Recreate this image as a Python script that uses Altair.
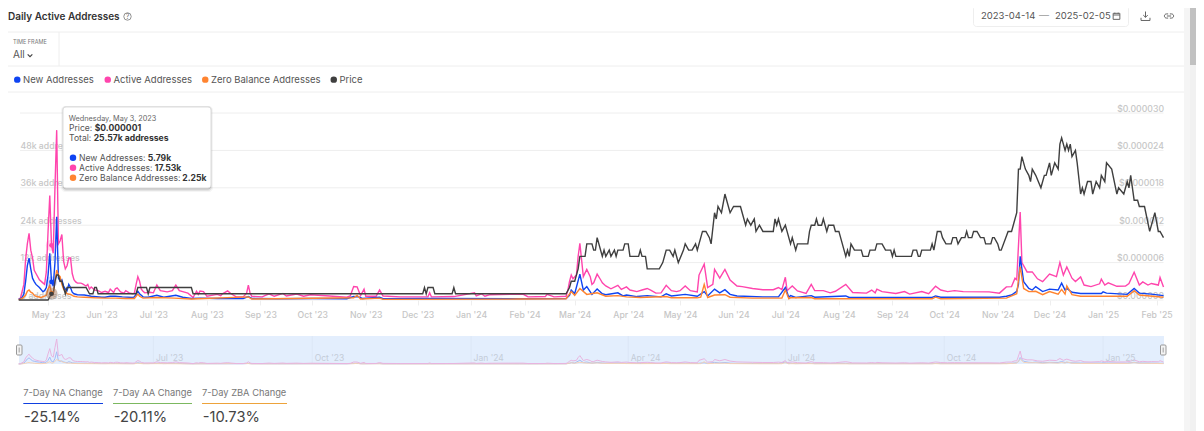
import altair as alt
import pandas as pd

START = "2023-04-14"
END = "2025-02-05"
FONT = "Inter"

SERIES = ["New Addresses", "Active Addresses", "Zero Balance Addresses", "Price"]
COLORS = ["#0f44f2", "#ff45ad", "#ff8430", "#3f3f3f"]

# day offset from START
active_days = [0,1,3,4,5,6,7,8,9,10,12,14,15,16,17,18,19,20,21,22,23,24,25,26,27,28,29,30,31,32,33,34,36,37,39,40,41,42,44,46,48,50,52,53,55,56,57,59,61,62,64,66,67,68,69,70,71,72,73,76,78,80,82,86,89,91,93,98,101,103,104,105,107,109,115,117,118,121,123,126,130,132,133,134,135,141,145,148,153,155,161,165,169,180,190,192,194,196,198,200,201,207,209,211,221,237,238,239,252,264,265,268,270,273,292,295,305,306,310,317,318,319,320,321,323,324,325,327,329,331,332,333,335,337,338,340,343,347,349,352,354,358,361,364,366,369,372,375,378,381,383,386,389,393,394,397,399,402,403,406,409,412,416,419,425,431,437,440,442,444,445,448,451,456,459,461,466,470,473,479,483,491,494,496,497,500,508,513,516,523,527,531,534,538,542,547,562,568,572,575,577,578,580,581,584,587,590,593,597,601,603,605,607,610,612,615,617,621,626,627,629,631,636,641,643,646,649,651,654,656,660,661,663]
active_k = [0.3,0.6,5,13,18,21.4,16,13.5,9.5,8.5,6.5,5.5,5,9,22,33.5,17.53,15,36,54.5,18,19,21,12.5,10,11,13.5,13.5,8.5,6.5,5.8,5.4,5.4,5.2,4.5,5,3.5,4.2,3.2,3,2.4,2.8,2.4,3.5,2.4,3.6,3.9,2.6,2.2,3,2.3,2,2.2,5,7.5,6,3.5,2.8,2.3,2.5,2.3,4.8,3,2.6,3,4.8,3,2.2,0.8,2.8,1.8,2.9,2.7,1.2,1.8,1.4,2,2.9,2,1,1,2.2,4.8,2.2,1.2,1,2,1.2,2.1,1.3,1.9,1.2,1.7,1.3,0.9,1.3,4.3,4.2,1.4,3.5,1.2,1.2,3.2,1.3,1,1,2.3,1,1.1,2.3,1.3,2,1.2,1.7,1.9,1,1.1,1.8,1,1.2,3,6,8,6.8,8,14,18.2,7.5,9.8,7.5,5,5.5,8.3,6.5,5.5,4.5,3.6,4.7,3.4,4.2,3.2,2.7,3.2,3.7,3.2,2.2,2.3,4.7,3,2.7,3,4.5,3,2.6,8,11.5,4,5,9.8,7,9.8,6.4,4.5,4.3,3.7,3.3,3.3,4,3.3,7.3,3,4.5,2.9,2.1,5,3,3,2.3,2.8,5,2.4,2.2,3.2,2.3,3.5,2.7,2.1,2.7,1.9,2.7,2,4.4,3.2,2.7,3,2.7,2.6,2.2,4.2,4.3,7,6.5,28.2,12,9,9,6.8,5.9,8.3,7.5,12,8,10.6,7,5.9,7.4,4.8,4.3,5.2,6.7,4.8,5.5,4.4,4.5,5.3,8.9,4.8,5.8,4.8,5.3,4.8,7.2,4.2]

new_days = [0,2,3,4,5,6,7,8,9,10,12,14,15,16,17,18,19,20,21,22,23,24,25,26,27,28,29,30,31,32,34,38,42,48,50,53,56,60,66,67,69,70,72,75,80,84,91,95,100,105,115,130,133,135,150,170,190,194,197,199,209,211,240,290,317,319,320,322,325,327,329,332,335,338,340,347,350,352,358,364,372,375,378,386,393,397,399,403,406,409,412,416,431,440,444,446,447,450,459,461,479,481,529,531,534,568,572,575,578,579,580,582,585,587,589,593,597,602,604,606,607,610,615,627,628,630,642,646,649,656,663]
new_k = [0.2,0.8,2,6,11,13.4,10,7,5.9,5,4,2.7,3,4,8,15,5.79,4.5,12,26.7,7,6,6.5,4.5,3.5,3,5,4,2.5,2,1.7,1.6,1.2,0.9,0.9,1.2,1.2,1,0.8,1,2.8,2,1,0.9,1.5,0.9,1.5,0.9,0.5,0.6,0.5,0.5,1.1,0.5,0.4,0.5,0.4,1.1,1,0.5,0.9,0.4,0.5,0.4,0.5,1.5,3.2,2,8.3,3.2,4.3,1.8,3.5,2,1.7,2.3,1.3,1.6,1.1,1.4,1,2,1.3,1.8,1.2,2.7,1.3,3.5,2.3,3.3,1.8,1.3,1,1,4,0.9,1.4,0.8,1.4,0.9,1.3,0.8,0.8,1.3,0.9,0.9,1.2,1.6,2.8,5,14,5.9,3.7,3.2,4.3,2.7,3.5,3.2,5.4,3.2,3.7,2.5,2.1,2.1,2.6,2.2,1.8,3.7,2.2,1.9,1.4]

zero_days = [0,2,3,4,5,6,7,8,9,10,13,16,17,18,19,20,21,22,23,24,25,26,27,28,30,32,34,38,44,50,56,62,67,69,70,72,80,90,100,133,135,194,196,198,209,211,290,317,320,322,325,329,335,340,347,352,360,375,378,393,395,397,399,403,409,412,425,442,444,446,447,459,461,529,531,534,572,578,580,582,585,589,593,597,602,604,606,607,610,615,642,646,649,663]
zero_k = [0.1,0.5,1,1.5,2.8,3.2,2.5,2.2,1.5,1.2,0.8,1.5,3.5,4.8,2.25,2,6,9.6,8,7.5,5,3.5,2.8,2,1.8,1.2,1,0.9,0.7,0.6,0.6,0.5,0.5,1.9,1.2,0.6,0.8,0.6,0.3,1,0.3,0.7,1.5,0.3,0.6,0.2,0.3,0.4,2.7,1.5,3.7,1.8,2.3,1.2,1.4,1,0.8,1.1,0.7,0.7,0.9,5,0.8,1.6,1.7,0.9,0.6,0.6,3.2,0.4,0.7,0.8,0.4,0.4,0.9,0.4,0.6,2,10.7,3.7,2.7,2.8,1.7,2.7,1.9,3.4,1.9,4.5,1.7,1.2,1.2,3,1.6,0.9]

price_days = [0,17,19,20,21,22,23,24,25,26,27,28,39,41,43,44,45,46,68,69,74,75,76,100,101,234,235,236,237,240,241,251,252,253,317,319,320,322,323,324,325,328,329,332,333,334,335,338,339,340,342,343,345,346,347,350,351,353,354,359,360,361,363,364,371,373,375,377,379,380,382,385,386,388,390,392,393,396,398,400,401,403,404,405,407,409,412,414,418,419,421,422,424,426,427,429,431,437,438,439,440,442,444,445,447,448,450,451,457,458,459,461,462,463,465,466,468,469,472,473,475,477,478,479,480,481,482,484,488,489,492,493,496,497,500,502,505,506,507,508,517,518,520,521,522,523,528,529,530,532,534,535,537,540,541,543,544,546,548,549,550,552,553,555,557,559,560,563,564,565,567,568,569,573,575,578,579,580,581,583,585,586,587,589,592,594,595,597,598,600,602,603,604,606,607,608,609,610,612,613,615,616,617,619,621,622,624,626,627,629,630,633,636,637,640,642,643,644,646,648,649,652,655,658,660,661,663]
price_millionths = [0,0,1,1,3,4,4,3,3,2,1,2,2,1,1,2,2,1,1,2,2,1,2,2,1,1,2,1,2,2,1,1,2,1,1,2,3,3,4,5,7,7,9,9,8,8,10,7,8,7,8,7,8,7,8,8,9,9,7,7,8,7,7,5,5,6,8,8,7,8,6,8,9,8,8,9,8,11,11,10,9,14,13,15,14,17,14,15,15,14,12,13,12,13,11,12,11,11,13,12,13,11,12,11,9,10,8,9,9,11,12,12,13,12,12,13,11,12,12,11,11,9,8,7,8,7,9,8,8,7,7,8,8,9,9,8,8,7,8,7,7,8,8,7,7,8,8,9,8,11,11,10,9,9,10,10,9,10,10,11,10,10,11,11,10,10,9,9,10,10,9,8,8,11,11,14,21,21,23,21,20,19,21,20,18,20,20,22,20,22,21,25,26,24,25,24,25,23,24,22,17,18,17,19,19,17,19,18,20,19,22,21,17,18,17,19,18,20,16,16,15,15,11,14,11,11,10]

hover_new, hover_active, hover_zero, hover_price = 5.79, 17.53, 2.25, 1
HOVER_DAY = "2023-05-03"

LEFT_TICKS = [0, 12, 24, 36, 48]
GRID_TICKS = [0, 12, 24, 36, 48, 60]
RIGHT_TICKS = [0, 6e-6, 12e-6, 18e-6, 24e-6, 30e-6]
OVERVIEW_TICKS = ["2023-07-01", "2023-10-01", "2024-01-01", "2024-04-01", "2024-07-01", "2024-10-01", "2025-01-01"]

def frame(days, values, name):
    base = pd.Timestamp(START)
    return pd.DataFrame({
        "date": [(base + pd.Timedelta(days=int(d))).strftime("%Y-%m-%d") for d in days],
        "value": values,
        "series": name,
    })

df_new = frame(new_days, new_k, SERIES[0])
df_active = frame(active_days, active_k, SERIES[1])
df_zero = frame(zero_days, zero_k, SERIES[2])
df_price = frame(price_days, [p * 1e-6 for p in price_millionths], SERIES[3])

W, H = 1188, 423
PX = lambda v: v - 8  # page pixel to canvas pixel

x_main = alt.Scale(type="utc", domain=[START, END], range=[PX(18.7), PX(1163.5)])
y_addr = alt.Scale(domain=[0, 60], range=[PX(300), PX(113)])
y_price = alt.Scale(domain=[0, 30e-6], range=[PX(300), PX(113)])
y_over = alt.Scale(domain=[0, 54.5], range=[PX(364), PX(339)])
color_scale = alt.Scale(domain=SERIES, range=COLORS)
legend_color = alt.Color("series:N", scale=color_scale, sort=SERIES,
                  legend=alt.Legend(title=None, orient="none", legendX=PX(12.5), legendY=PX(74.5), direction="horizontal",
                                    columns=4, symbolType="circle", symbolSize=42, symbolOpacity=1, symbolStrokeWidth=0,
                                    labelFont=FONT, labelFontSize=9.5, labelColor="#555555", columnPadding=8.5, labelOffset=1,
                                    padding=0, labelLimit=200))
one = pd.DataFrame({"n": [0]})

def X(axis=None):
    return alt.X("date:T", scale=x_main, axis=axis, title=None)

def label(txt, x, y, size=10.5, col="#555555", weight=400, align="left"):
    return alt.Chart(one).mark_text(font=FONT, fontSize=size, color=col, fontWeight=weight, align=align, baseline="middle").encode(
        x=alt.value(PX(x)), y=alt.value(PX(y)), text=alt.value(txt))

def box(x0, x1, y0, y1, fill="white", stroke=None, opacity=1, radius=0, sw=1):
    kw = {}
    if stroke:
        kw = {"stroke": stroke, "strokeWidth": sw}
    return alt.Chart(one).mark_rect(fill=fill, opacity=opacity, cornerRadius=radius, **kw).encode(
        x=alt.value(PX(x0)), x2=alt.value(PX(x1)), y=alt.value(PX(y0)), y2=alt.value(PX(y1)))

def hline(y, x0, x1, col="#eeeeee", w=1):
    return alt.Chart(one).mark_rule(color=col, strokeWidth=w).encode(
        x=alt.value(PX(x0)), x2=alt.value(PX(x1)), y=alt.value(PX(y)))

def vline(x, y0, y1, col="#eeeeee", w=1):
    return alt.Chart(one).mark_rule(color=col, strokeWidth=w).encode(
        x=alt.value(PX(x)), y=alt.value(PX(y0)), y2=alt.value(PX(y1)))

def icon(path, x, y, size, col="#666666", w=1.1, fill=None):
    kw = {"fill": fill, "filled": True} if fill else {"filled": False}
    return alt.Chart(one).mark_point(shape=path, size=size, stroke=col, strokeWidth=w, opacity=1, **kw).encode(
        x=alt.value(PX(x)), y=alt.value(PX(y)))

def dot(x_date, v, col, r_size, opacity=1, scale=y_addr):
    d = pd.DataFrame({"date": [x_date], "value": [v]})
    return alt.Chart(d).mark_point(filled=True, color=col, size=r_size, opacity=opacity).encode(
        x=X(), y=alt.Y("value:Q", scale=scale, axis=None, title=None))

layers = []

# page furniture
layers += [
    box(1184, 1190, 0, 431, fill="#f5f5f5"),
    box(1190, 1196, 0, 431, fill="#f1f1f1"),
    box(1190, 1196, 0, 65, fill="#c1c1c1"),
    hline(32, 8, 1184), hline(66, 8, 1184), hline(92, 8, 1184), vline(59, 32, 66),
    label("Daily Active Addresses", 8, 16.5, 10, "#333333", 600),
    icon("circle", 127.5, 16.5, 55, "#777777", 0.8),
    label("?", 127.5, 16.7, 7, "#777777", align="center"),
    label("TIME FRAME", 13, 42, 5.5, "#777777"),
    label("All", 13, 55, 10, "#555555"),
    icon("M-1,-0.5L0,0.5L1,-0.5", 30, 55.5, 22, "#444444", 1.2),
    box(973.5, 1128.5, 5.5, 26.5, stroke="#eeeeee", radius=3),
    label("2023-04-14", 981, 16, 9.5, "#555555"),
    label("—", 1044, 16, 10, "#999999", align="center"),
    label("2025-02-05", 1055, 16, 9.5, "#555555"),
    icon("M-1,-0.8H1V1H-1ZM-1,-0.3H1M-0.5,-1V-0.6M0.5,-1V-0.6", 1116.5, 16, 45, "#666666", 1),
    icon("M0,-1V0.3M-0.5,-0.2L0,0.3L0.5,-0.2M-1,0.4V1H1V0.4", 1145.5, 16, 80, "#666666", 1),
    icon("M-0.2,-0.5H-0.6A0.5,0.5 0 0 0 -0.6,0.5H-0.2M0.2,-0.5H0.6A0.5,0.5 0 0 1 0.6,0.5H0.2M-0.5,0H0.5", 1169, 16, 70, "#666666", 1),
]

# gridlines and axes
grid_df = pd.DataFrame({"v": GRID_TICKS})
layers.append(alt.Chart(grid_df).mark_rule(color="#eeeeee", strokeWidth=1).encode(
    x=alt.value(PX(20)), x2=alt.value(PX(1163.5)),
    y=alt.Y("v:Q", scale=y_addr, title=None, axis=alt.Axis(
        orient="left", values=LEFT_TICKS, domain=False, ticks=False, grid=False, labelAlign="left", labelBaseline="bottom",
        labelPadding=-PX(20), labelFont=FONT, labelFontSize=8.7, labelColor="#c6c6c6", labelFontWeight=500,
        labelExpr="datum.value == 0 ? '0 addresses' : datum.value + 'k addresses'"))))

right_df = pd.DataFrame({"v": RIGHT_TICKS})
layers.append(alt.Chart(right_df).mark_rule(opacity=0).encode(
    x=alt.value(PX(20)), x2=alt.value(PX(21)),
    y=alt.Y("v:Q", scale=y_price, title=None, axis=alt.Axis(
        orient="right", values=RIGHT_TICKS, domain=False, ticks=False, grid=False, labelAlign="right", labelBaseline="bottom",
        labelPadding=-(W - PX(1163.5)), labelFont=FONT, labelFontSize=8.7, labelColor="#c6c6c6", labelFontWeight=500,
        format="$.6f"))))

main_axis = alt.Axis(orient="bottom", offset=-(H - PX(300)), domain=False, grid=False, tickColor="#eeeeee", tickSize=5,
                     labelPadding=5.5, labelFont=FONT, labelFontSize=8.7, labelColor="#c6c6c6", labelFontWeight=500,
                     labelFlush=False, labelOverlap=False, tickCount={"interval": "month", "step": 1},
                     labelExpr="utcFormat(datum.value, \"%b '%y\")")

def series_line(df, scale, col, axis=None):
    return alt.Chart(df).mark_line(strokeWidth=1.4, interpolate="linear", color=col).encode(
        x=X(axis), y=alt.Y("value:Q", scale=scale, axis=None, title=None))

legend_df = pd.concat([df.head(1) for df in [df_new, df_active, df_zero, df_price]])
layers += [
    alt.Chart(legend_df).mark_point(filled=True, size=0).encode(
        x=X(), y=alt.Y("value:Q", scale=y_addr, axis=None, title=None), color=legend_color),
    series_line(df_active, y_addr, COLORS[1], main_axis),
    series_line(df_new, y_addr, COLORS[0]),
    series_line(df_zero, y_addr, COLORS[2]),
    series_line(df_price, y_price, COLORS[3]),
]

# hover markers
layers += [
    dot(HOVER_DAY, hover_price * 1e-6, "#666666", 150, 0.35, y_price),
    dot(HOVER_DAY, hover_active, COLORS[1], 130, 0.18),
    dot(HOVER_DAY, hover_new, COLORS[0], 130, 0.18),
    dot(HOVER_DAY, hover_zero, COLORS[2], 130, 0.18),
    dot(HOVER_DAY, hover_active, COLORS[1], 22),
    dot(HOVER_DAY, hover_new, COLORS[0], 22),
    dot(HOVER_DAY, hover_zero, COLORS[2], 22),
    dot(HOVER_DAY, hover_price * 1e-6, COLORS[3], 22, 1, y_price),
]

# overview strip
over_axis = alt.Axis(orient="bottom", offset=-(H - PX(352)), domain=False, grid=False, ticks=False, labelPadding=1, zindex=1,
                     labelFont=FONT, labelFontSize=8.5, labelColor="#c3ccd8", labelAlign="left", labelOverlap=False,
                     labelOffset=2, labelFlush=False, tickCount={"interval": "month", "step": 3},
                     labelExpr="utcFormat(datum.value, \"%b '%y\")")
over_x = alt.X("date:T", scale=x_main, axis=over_axis, title=None)
tick_df = pd.DataFrame({"date": OVERVIEW_TICKS})

def over_line(df, col, op=1):
    return alt.Chart(df).mark_line(color=col, strokeWidth=1, opacity=op).encode(
        x=X(), y=alt.Y("value:Q", scale=y_over, axis=None, title=None))

layers += [
    box(19, 1164, 336, 364, fill="#e3eefd"),
    alt.Chart(tick_df).mark_rule(color="#dce7f6", strokeWidth=1).encode(
        x=over_x, y=alt.value(PX(336)), y2=alt.value(PX(364))),
    over_line(df_new, "#a5bcf6"),
    over_line(df_zero, "#f5d3b8"),
    over_line(df_active, "#e8b4e0"),
    box(16.5, 22, 345, 355, fill="#f4f4f4", stroke="#999999", radius=1),
    box(18.5, 20, 347.5, 352.5, fill="#bbbbbb"),
    box(1160.5, 1166, 345, 355, fill="#f4f4f4", stroke="#999999", radius=1),
    box(1162.5, 1164, 347.5, 352.5, fill="#bbbbbb"),
]

# tooltip
layers += [
    box(61, 213, 106, 192, fill="#000000", opacity=0.04, radius=4),
    box(62, 212, 106, 191, fill="#000000", opacity=0.07, radius=4),
    box(63, 211, 107, 189.5, fill="#000000", opacity=0.15, radius=3),
    box(63, 211, 107, 188, fill="white", stroke="#dddddd", radius=3),
    label("Wednesday, May 3, 2023", 68.7, 118.5, 7.3, "#666666"),
    label("Price:", 69, 128.3, 8.6, "#555555"),
    label("$0.000001", 94.7, 128.3, 8.6, "#333333", 700),
    label("Total:", 69, 138, 8.6, "#555555"),
    label("25.57k addresses", 93.7, 138, 8.6, "#333333", 700),
]
rows = [("New Addresses:", "5.79k", 147.7, 157.8, COLORS[0]),
        ("Active Addresses:", "17.53k", 154.7, 167.8, COLORS[1]),
        ("Zero Balance Addresses:", "2.25k", 182.3, 177.8, COLORS[2])]
for name, val, vx, vy, c in rows:
    layers.append(alt.Chart(one).mark_point(filled=True, color=c, size=42, opacity=1).encode(
        x=alt.value(PX(73)), y=alt.value(PX(vy))))
    layers.append(label(name, 79, vy, 8.6, "#555555"))
    layers.append(label(val, vx, vy, 8.6, "#333333", 700))

# stat cards
cards = [("7-Day NA Change", "-25.14%", 23.3, 103, "#1040e0"),
         ("7-Day AA Change", "-20.11%", 113, 192, "#7cb860"),
         ("7-Day ZBA Change", "-10.73%", 202, 287, "#eda33b")]
for name, val, x0, x1, c in cards:
    layers.append(label(name, x0, 393, 9.3, "#777777"))
    layers.append(hline(403.5, x0, x1, c, 1))
    layers.append(label(val, x0 + 0.7, 418, 14.7, "#444444"))

chart = alt.layer(*layers).resolve_scale(x="independent", y="independent").properties(
    width=W, height=H, padding=0, background="white",
    autosize=alt.AutoSizeParams(type="none", contains="padding"),
).configure_view(stroke=None)

chart.save("out.html", embed_options={"renderer": "svg", "actions": False})
